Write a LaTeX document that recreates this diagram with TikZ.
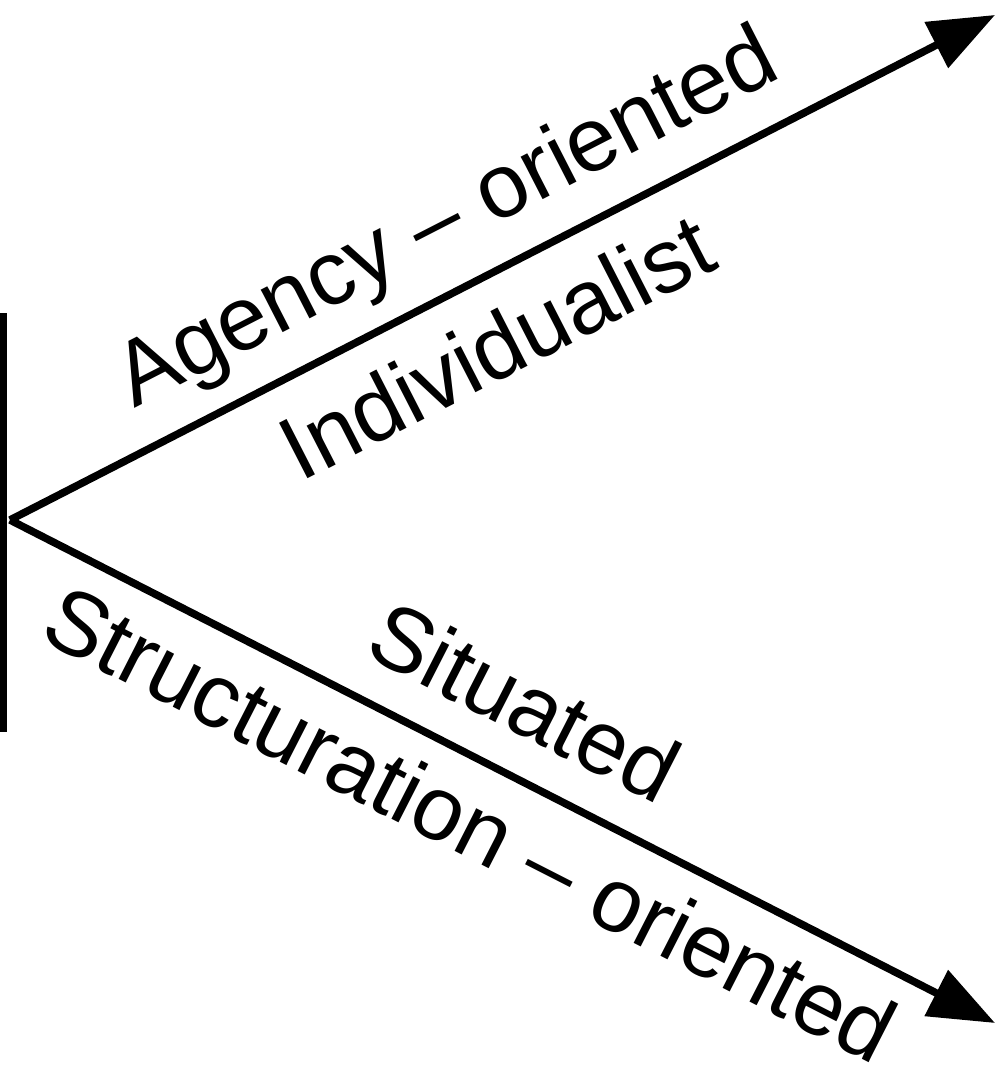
\documentclass[tikz,border=0pt]{standalone}
\usepackage{fontspec}
\setmainfont{Liberation Sans}
\usepackage{tikz}
\usetikzlibrary{arrows.meta,positioning,calc}

\tikzset{
  axisline/.style={draw=black,line width=4.3pt,line join=miter,-{Triangle[length=1.32cm,width=1.0cm]}},
  axislbl/.style={font=\fontsize{51.5}{62}\selectfont,anchor=base,inner sep=0pt}
}

\begin{document}
\begin{tikzpicture}[x=1cm,y=1cm]
  \useasboundingbox (0,0) rectangle (19.98,21.48);
  % origin and arrow ends
  \coordinate (orig) at (0.2,11.08);
  \coordinate (agencyend) at (19.9,21.18);
  \coordinate (structend) at (19.9,1.02);
  % vertical bar on the left
  \fill[black] (0,6.84) rectangle (0.13,15.22);
  % the two arrows
  \draw[axisline] (orig) -- (agencyend);
  \draw[axisline] (orig) -- (structend);
  % labels
  \node[axislbl,rotate=27.15] (agency) at (9.18,16.63) {Agency – oriented};
  \node[axislbl,rotate=27.15] (indiv) at (10.22,13.98) {Individualist};
  \node[axislbl,rotate=-27.05] (situated) at (10.20,6.88) {Situated};
  \node[axislbl,rotate=-27.05] (structur) at (9.12,4.44) {Structuration – oriented};
\end{tikzpicture}
\end{document}
